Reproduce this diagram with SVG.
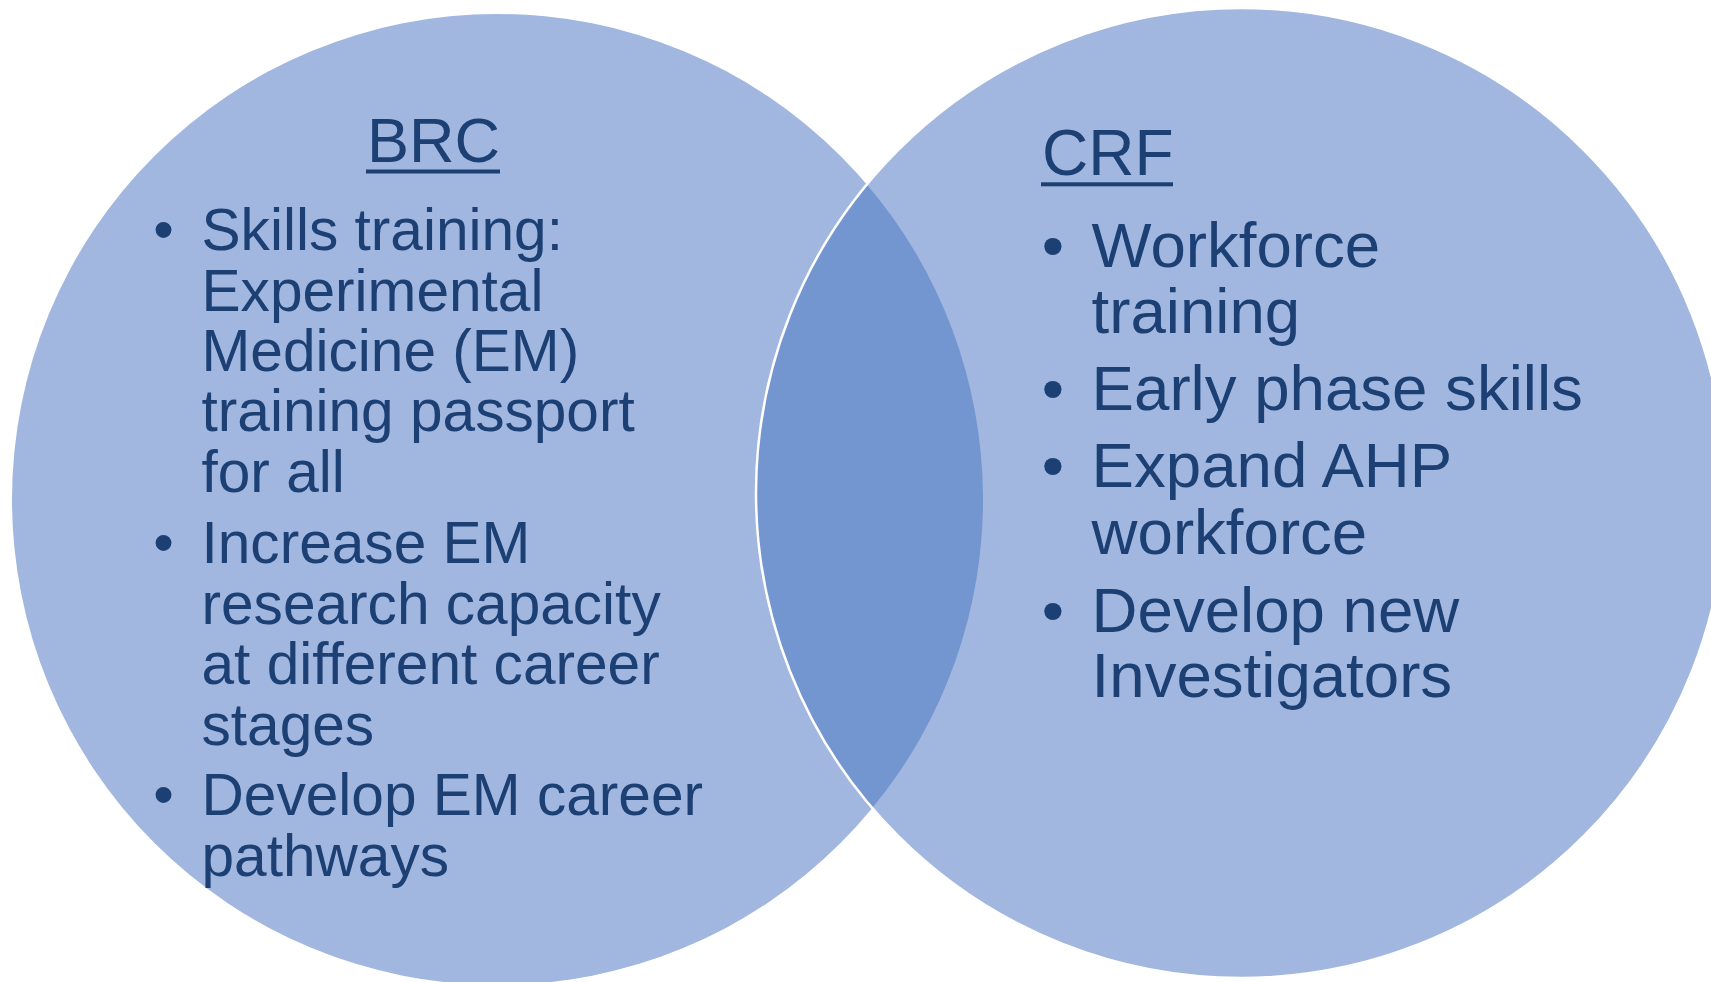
<svg xmlns="http://www.w3.org/2000/svg" width="1711" height="982" viewBox="0 0 1711 982">
  <style>
    .set { fill: #A1B7E0; }
    .lens { fill: #7395D0; }
    .ring { fill: none; stroke: #FFFFFF; stroke-width: 2.5; }
    .txt { font-family: "Liberation Sans", Arial, sans-serif; fill: #1C3F74; }
    .uline { fill: #1C3F74; }
  </style>

  <!-- set circles -->
  <g id="brc-circle">
    <circle class="set" cx="497.5" cy="499.5" r="485.5"/>
  </g>
  <g id="crf-circle">
    <circle class="set" cx="1241" cy="493" r="485"/>
  </g>

  <!-- overlap region -->
  <g id="overlap">
    <path class="lens" d="M866.84 184.4 A485.5 485.5 0 0 1 872.3 808.1 A485 485 0 0 1 866.84 184.4 Z"/>
    <circle class="ring" cx="1241" cy="493" r="485"/>
  </g>

  <!-- BRC labels -->
  <g id="brc" class="txt">
    <text x="367" y="162.3" font-size="63">BRC</text>
    <rect class="uline" x="366" y="169.5" width="134" height="4"/>
    <g font-size="58.6">
      <text x="163.6" y="250" text-anchor="middle">•</text>
      <text x="201.5" y="250">Skills training:</text>
      <text x="201.5" y="310.5">Experimental</text>
      <text x="201.5" y="371">Medicine (EM)</text>
      <text x="201.5" y="431">training passport</text>
      <text x="201.5" y="491.5">for all</text>
      <text x="163.6" y="562.7" text-anchor="middle">•</text>
      <text x="201.5" y="562.7">Increase EM</text>
      <text x="201.5" y="623.5">research capacity</text>
      <text x="201.5" y="684">at different career</text>
      <text x="201.5" y="745">stages</text>
      <text x="163.6" y="815" text-anchor="middle">•</text>
      <text x="201.5" y="815">Develop EM career</text>
      <text x="201.5" y="876">pathways</text>
    </g>
  </g>

  <!-- CRF labels -->
  <g id="crf" class="txt">
    <text x="1042" y="175" font-size="64">CRF</text>
    <rect class="uline" x="1041" y="182.3" width="132" height="4"/>
    <g font-size="63.6">
      <text x="1053" y="266.7" text-anchor="middle">•</text>
      <text x="1091.6" y="266.7">Workforce</text>
      <text x="1091.6" y="333.3">training</text>
      <text x="1053" y="410" text-anchor="middle">•</text>
      <text x="1091.6" y="410">Early phase skills</text>
      <text x="1053" y="487.3" text-anchor="middle">•</text>
      <text x="1091.6" y="487.3">Expand AHP</text>
      <text x="1091.6" y="554">workforce</text>
      <text x="1053" y="631.7" text-anchor="middle">•</text>
      <text x="1091.6" y="631.7">Develop new</text>
      <text x="1091.6" y="697.3">Investigators</text>
    </g>
  </g>
</svg>
